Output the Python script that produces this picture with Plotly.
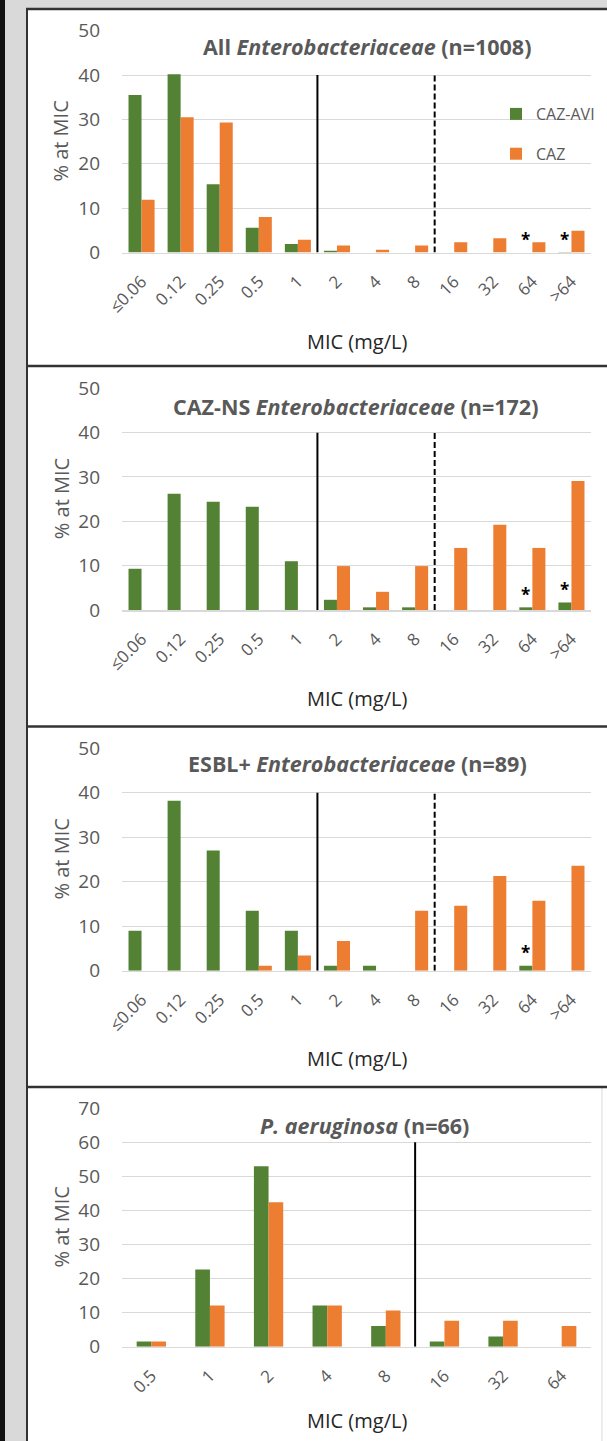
import plotly.graph_objects as go

# ---------------- data ----------------
cats_entero = ["≤0.06", "0.12", "0.25", "0.5", "1", "2", "4", "8", "16", "32", "64", ">64"]
cats_pa = ["0.5", "1", "2", "4", "8", "16", "32", "64"]

all_avi = [35.5, 40.2, 15.4, 5.6, 1.9, 0.4, 0, 0, 0, 0, 0, 0.1]
all_caz = [11.9, 30.5, 29.3, 8.0, 2.9, 1.6, 0.6, 1.6, 2.3, 3.2, 2.3, 4.9]

ns_avi = [9.3, 26.2, 24.4, 23.3, 11.0, 2.3, 0.6, 0.6, 0, 0, 0.6, 1.7]
ns_caz = [0, 0, 0, 0, 0, 9.9, 4.1, 9.9, 14.0, 19.2, 14.0, 29.1]

esbl_avi = [9.0, 38.2, 27.0, 13.5, 9.0, 1.1, 1.1, 0, 0, 0, 1.1, 0]
esbl_caz = [0, 0, 0, 1.1, 3.4, 6.7, 0, 13.5, 14.6, 21.3, 15.7, 23.6]

pa_avi = [1.5, 22.7, 53.0, 12.1, 6.1, 1.5, 3.0, 0]
pa_caz = [1.5, 12.1, 42.4, 12.1, 10.6, 7.6, 7.6, 6.1]

titles = [
    "<b>All <i>Enterobacteriaceae</i> (n=1008)</b>",
    "<b>CAZ-NS <i>Enterobacteriaceae</i> (n=172)</b>",
    "<b>ESBL+ <i>Enterobacteriaceae</i> (n=89)</b>",
    "<b><i>P. aeruginosa</i> (n=66)</b>",
]
series_names = ["CAZ-AVI", "CAZ"]
asterisks = [["64", ">64"], ["64", ">64"], ["64"], []]
solid_break = ["1", "1", "1", "8"]      # breakpoint after this category
dashed_break = ["8", "8", "8", None]
y_max = [50, 50, 50, 70]
y_line_top = [40, 40, 40, 60]

# ---------------- layout helpers ----------------
W, H = 607, 1441
GREEN = "#548235"
ORANGE = "#ED7D31"
GRAY_TXT = "#595959"
FRAME_GRAY = "#d9d9d9"


def px_x(p):
    return p / W


def px_y(p):
    return 1 - p / H


plot_x0, plot_x1 = 122, 591
# (top px, bottom px) of each plot area
plot_y = [(30.7, 252.5), (388.3, 610.0), (748.3, 970.7), (1108.3, 1346.7)]
title_pos = [(367, 46.7), (355, 406.7), (357, 763), (364, 1125)]
xtitle_y = [341.7, 698.3, 1058.3, 1420]
panel_borders = [9, 366, 726.5, 1087]

panels = [
    (cats_entero, all_avi, all_caz),
    (cats_entero, ns_avi, ns_caz),
    (cats_entero, esbl_avi, esbl_caz),
    (cats_pa, pa_avi, pa_caz),
]

fig = go.Figure()
shapes = []
annotations = []
layout = {}

# background decorations: gray frame (drawn as thick strokes), white chart box
shapes.append(dict(type="line", xref="paper", yref="paper", x0=px_x(13.5), x1=px_x(13.5), y0=0, y1=1,
                   line=dict(color=FRAME_GRAY, width=27), layer="above"))
shapes.append(dict(type="line", xref="paper", yref="paper", x0=0, x1=1, y0=px_y(4.5), y1=px_y(4.5),
                   line=dict(color=FRAME_GRAY, width=9), layer="above"))
shapes.append(dict(type="line", xref="paper", yref="paper", x0=px_x(2.5), x1=px_x(2.5), y0=0, y1=1,
                   line=dict(color="#111111", width=5), layer="above"))
shapes.append(dict(type="line", xref="paper", yref="paper", x0=px_x(27), x1=px_x(27), y0=0, y1=px_y(8.5),
                   line=dict(color="#333333", width=2), layer="above"))
shapes.append(dict(type="line", xref="paper", yref="paper", x0=px_x(602), x1=px_x(602), y0=0,
                   y1=px_y(1087), line=dict(color=FRAME_GRAY, width=1), layer="above"))
for b in panel_borders:
    shapes.append(dict(type="line", xref="paper", yref="paper", x0=px_x(26), x1=1, y0=px_y(b), y1=px_y(b),
                       line=dict(color="#333333", width=2.5), layer="above"))

for i, (cats, avi, caz) in enumerate(panels):
    n = i + 1
    xa = "x" if n == 1 else f"x{n}"
    ya = "y" if n == 1 else f"y{n}"
    xkey = "xaxis" if n == 1 else f"xaxis{n}"
    ykey = "yaxis" if n == 1 else f"yaxis{n}"
    top, bot = plot_y[i]
    bw = 1 / 3 if i < 3 else 0.25   # width of one bar in category units

    fig.add_trace(go.Bar(x=cats, y=avi, name=series_names[0], marker_color=GREEN,
                         xaxis=xa, yaxis=ya, showlegend=(i == 0), legendgroup="a",
                         marker_line_width=0, width=bw, offset=-bw))
    fig.add_trace(go.Bar(x=cats, y=caz, name=series_names[1], marker_color=ORANGE,
                         xaxis=xa, yaxis=ya, showlegend=(i == 0), legendgroup="b",
                         marker_line_width=0, width=bw, offset=0))

    layout[xkey] = dict(domain=[px_x(plot_x0), px_x(plot_x1)], anchor=ya, type="category",
                        categoryorder="array", categoryarray=cats,
                        range=[-0.5, len(cats) - 0.5], automargin=False,
                        tickangle=-45, tickfont=dict(family="Open Sans", size=17, color=GRAY_TXT),
                        showgrid=False, showline=True, linecolor="#d9d9d9", linewidth=1.5,
                        ticks="", ticklabelstandoff=11, fixedrange=True)
    layout[ykey] = dict(domain=[px_y(bot), px_y(top)], anchor=xa, range=[0, y_max[i]],
                        dtick=10, tick0=0, showgrid=True, gridcolor="#d9d9d9", gridwidth=1,
                        zeroline=False, showline=False, ticks="", automargin=False,
                        tickfont=dict(family="Open Sans", size=19, color=GRAY_TXT),
                        ticklabelstandoff=21, fixedrange=True)

    # breakpoint lines
    idx_s = cats.index(solid_break[i]) + 0.5
    shapes.append(dict(type="line", xref=xa, yref=ya, x0=idx_s, x1=idx_s, y0=0, y1=y_line_top[i],
                       line=dict(color="black", width=2)))
    if dashed_break[i] is not None:
        idx_d = cats.index(dashed_break[i]) + 0.5
        shapes.append(dict(type="line", xref=xa, yref=ya, x0=idx_d, x1=idx_d, y0=0, y1=y_line_top[i],
                           line=dict(color="black", width=2, dash="6px,3px")))

    # titles
    tx, ty = title_pos[i]
    annotations.append(dict(text=titles[i], xref="paper", yref="paper", x=px_x(tx), y=px_y(ty),
                            showarrow=False, xanchor="center", yanchor="middle",
                            font=dict(family="Open Sans", size=21.5, color=GRAY_TXT)))
    # axis titles
    annotations.append(dict(text="MIC (mg/L)", xref="paper", yref="paper", x=px_x(357),
                            y=px_y(xtitle_y[i]), showarrow=False, xanchor="center", yanchor="middle",
                            font=dict(family="Open Sans", size=20, color="#262626")))
    annotations.append(dict(text="% at MIC", xref="paper", yref="paper", x=px_x(61),
                            y=px_y((top + bot) / 2), showarrow=False, textangle=-90,
                            xanchor="center", yanchor="middle",
                            font=dict(family="Open Sans", size=20, color=GRAY_TXT)))
    # asterisks above CAZ-AVI bars
    for c in asterisks[i]:
        j = cats.index(c)
        annotations.append(dict(text="<b>*</b>", xref=xa, yref=ya, x=j - bw / 2, y=avi[j],
                                yshift=13, showarrow=False, yanchor="middle",
                                font=dict(family="Open Sans", size=17, color="black")))

fig.update_layout(
    template="none",
    width=W, height=H, margin=dict(l=0, r=0, t=0, b=0, autoexpand=False),
    paper_bgcolor="white", plot_bgcolor="rgba(0,0,0,0)",
    barmode="overlay",
    shapes=shapes, annotations=annotations,
    showlegend=True,
    legend=dict(x=px_x(496), y=px_y(97), xanchor="left", yanchor="top",
                bgcolor="rgba(0,0,0,0)", font=dict(family="Open Sans", size=16, color=GRAY_TXT),
                traceorder="grouped", tracegroupgap=16, itemwidth=30),
    **layout,
)

fig.write_html("out.html", config={"displayModeBar": False, "staticPlot": True},
               post_script="document.body.style.margin='0px';"
                           "document.body.style.overflow='hidden';"
                           "document.documentElement.style.overflow='hidden';"
                           "document.body.style.background='#d9d9d9';")
